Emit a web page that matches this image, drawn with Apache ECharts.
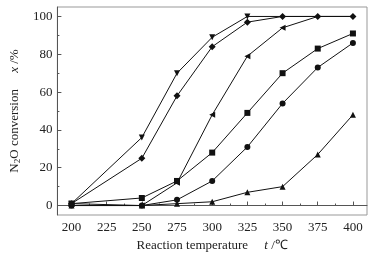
<!DOCTYPE html>
<html>
<head>
<meta charset="utf-8">
<script src="https://cdn.jsdelivr.net/npm/echarts@6/dist/echarts.min.js"></script>
<style>
    html, body { margin: 0; padding: 0; background: #fff; }
    #chart { width: 383px; height: 259px; }
</style>
</head>
<body>
<div id="chart"></div>
<script>
// 反应温度 (℃)
var temps = [200, 250, 275, 300, 325, 350, 375, 400];
// N2O 转化率 (%)
var downTri = [1, 36, 70, 89, 100, 100, 100, 100];
var diamond = [1, 25, 58, 84, 97, 100, 100, 100];
var leftTri = [1, 0, 12, 48, 79, 94, 100, 100];
var square = [1, 4, 13, 28, 49, 70, 83, 91];
var circle = [0, 0, 3, 13, 31, 54, 73, 86];
var upTri = [0, 0, 1, 2, 7, 10, 27, 48];

var xTicks = [200, 225, 250, 275, 300, 325, 350, 375, 400];
var xMinor = [212.5, 237.5, 262.5, 287.5, 312.5, 337.5, 362.5, 387.5];
var yTicks = [0, 20, 40, 60, 80, 100];
var yMinor = [10, 30, 50, 70, 90];

function pairs(vals) {
    return temps.map(function (t, i) { return [t, vals[i]]; });
}

function line(vals, symbol, rotate, size, lastShown) {
    return {
        type: 'line',
        data: pairs(vals),
        symbol: symbol,
        symbolRotate: rotate,
        symbolSize: function (v, p) { return p.dataIndex > lastShown ? 0 : size; },
        showAllSymbol: true,
        lineStyle: { color: '#111', width: 1 },
        itemStyle: { color: '#111' },
        animation: false
    };
}

var chart = echarts.init(document.getElementById('chart'));
var font = 'Liberation Serif';
var option = {
    grid: {
        left: 51, right: 16, top: 7, bottom: 44,
        show: true, borderColor: '#999', borderWidth: 1
    },
    xAxis: [{
        type: 'value', min: 190, max: 410,
        axisLine: { lineStyle: { color: '#555' } },
        axisTick: { inside: true, length: 4, customValues: xTicks, lineStyle: { color: '#555' } },
        axisLabel: { customValues: xTicks, color: '#222', fontFamily: font, fontSize: 13, margin: 6 },
        splitLine: { show: false },
        name: 'Reaction temperature     {i|t} /℃',
        nameLocation: 'middle', nameGap: 21,
        nameTextStyle: {
            color: '#222', fontFamily: font, fontSize: 13,
            rich: { i: { fontStyle: 'italic', fontFamily: font, fontSize: 13, color: '#222' } }
        }
    }, {
        type: 'value', min: 190, max: 410, position: 'bottom',
        axisLine: { show: false },
        axisTick: { inside: true, length: 2, customValues: xMinor, lineStyle: { color: '#555' } },
        axisLabel: { show: false },
        splitLine: { show: false }
    }],
    yAxis: [{
        type: 'value', min: -5, max: 105,
        axisLine: { show: true, lineStyle: { color: '#555' } },
        axisTick: { show: true, inside: true, length: 4, customValues: yTicks, lineStyle: { color: '#555' } },
        axisLabel: { customValues: yTicks, color: '#222', fontFamily: font, fontSize: 13, margin: 5 },
        splitLine: { show: false },
        name: 'N{sub|2}O conversion     {i|x} /%',
        nameLocation: 'middle', nameGap: 30, nameRotate: 90,
        nameTextStyle: {
            color: '#222', fontFamily: font, fontSize: 13,
            rich: {
                i: { fontStyle: 'italic', fontFamily: font, fontSize: 13, color: '#222' },
                sub: { fontFamily: font, fontSize: 9, color: '#222', padding: [6, 0, 0, 0] }
            }
        }
    }, {
        type: 'value', min: -5, max: 105, position: 'left',
        axisLine: { show: false },
        axisTick: { show: true, inside: true, length: 2, customValues: yMinor, lineStyle: { color: '#555' } },
        axisLabel: { show: false },
        splitLine: { show: false }
    }],
    series: [
        line(upTri, 'triangle', 0, 6, 7),
        line(circle, 'circle', 0, 6, 7),
        line(square, 'rect', 0, 6, 7),
        line(leftTri, 'triangle', 90, 6, 5),
        line(downTri, 'triangle', 180, 6, 4),
        line(diamond, 'diamond', 0, 7, 7)
    ]
};
chart.setOption(option);
</script>
</body>
</html>
